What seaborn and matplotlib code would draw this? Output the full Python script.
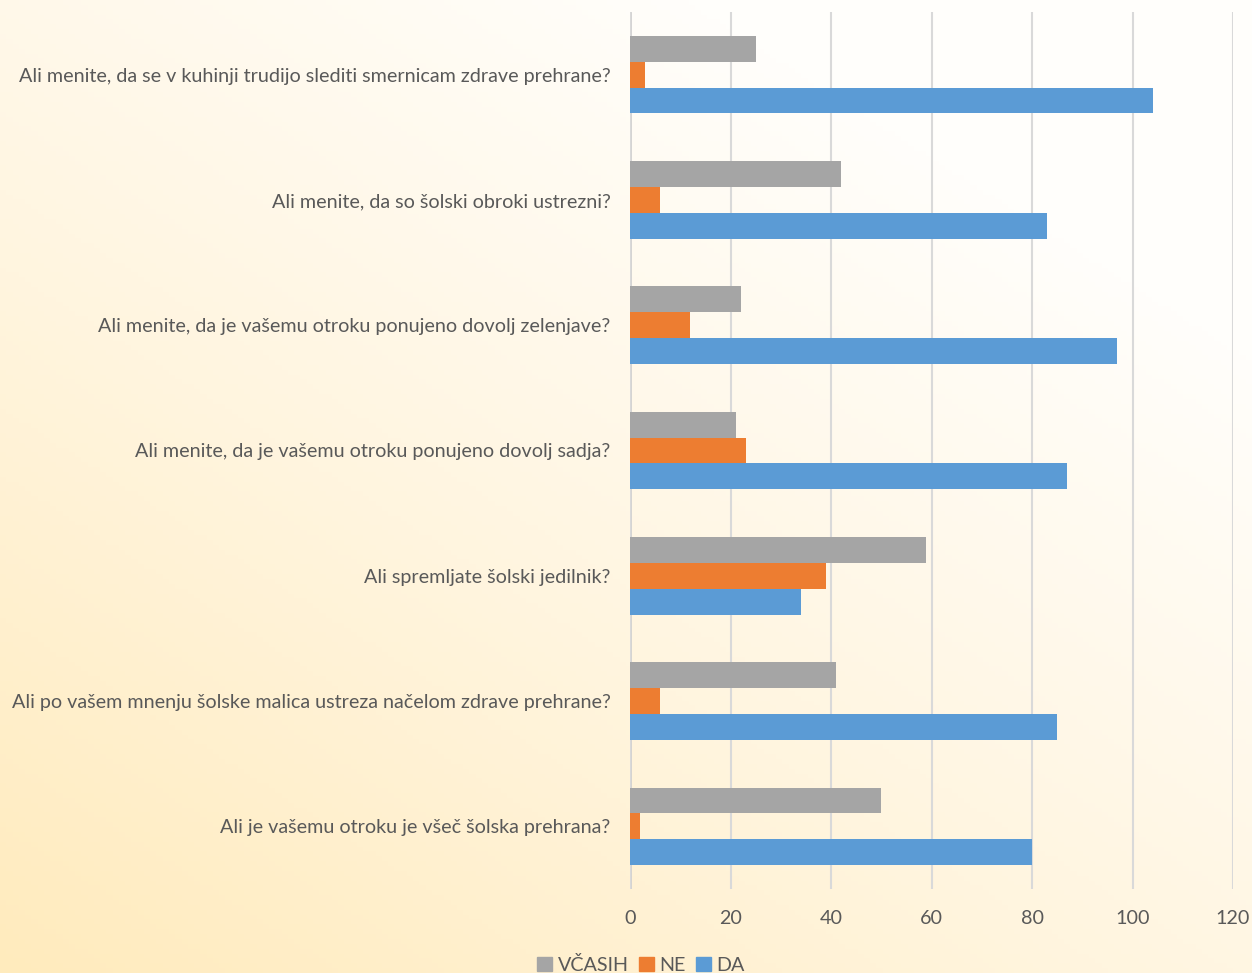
import numpy as np
import pandas as pd
import seaborn as sb
import matplotlib as mpl
import matplotlib.pyplot as plt
import matplotlib.ticker as ticker
from matplotlib.colors import LinearSegmentedColormap

questions = [
    'Ali menite, da se v kuhinji trudijo slediti smernicam zdrave prehrane?',
    'Ali menite, da so šolski obroki ustrezni?',
    'Ali menite, da je vašemu otroku ponujeno dovolj zelenjave?',
    'Ali menite, da je vašemu otroku ponujeno dovolj sadja?',
    'Ali spremljate šolski jedilnik?',
    'Ali po vašem mnenju šolske malica ustreza načelom zdrave prehrane?',
    'Ali je vašemu otroku je všeč šolska prehrana?',
]
vcasih = [25, 42, 22, 21, 59, 41, 50]
ne     = [3, 6, 12, 23, 39, 6, 2]
da     = [104, 83, 97, 87, 34, 85, 80]

series = ['VČASIH', 'NE', 'DA']
colors = ['#A5A5A5', '#ED7D31', '#5B9BD5']

sb.set_style('white')
mpl.rcParams['font.family'] = ['Lato', 'DejaVu Sans']

df = pd.DataFrame({'q': questions, 'VČASIH': vcasih, 'NE': ne, 'DA': da})
df = df.melt(id_vars='q', var_name='odgovor', value_name='n')

fig = plt.figure(figsize=(12.52, 9.73), dpi=100)

# background gradient (yellow bottom-left -> white top-right)
bg = fig.add_axes([0, 0, 1, 1], zorder=-10)
yy, xx = np.mgrid[0:1:200j, 0:1:200j]
t = np.clip((xx * 0.9 + (1 - yy) * 1.1) / 1.6, 0, 1)
cmap = LinearSegmentedColormap.from_list('bg', ['#FFEBBD', '#FFF5DF', '#FFFEFB'])
bg.imshow(t, cmap=cmap, aspect='auto', extent=[0, 1, 0, 1], origin='upper')
bg.axis('off')

ax = fig.add_axes([630/1252, 1 - 889/973, 603/1252, (889 - 12)/973])
ax.set_facecolor('none')

sb.barplot(data=df, y='q', x='n', hue='odgovor', order=questions,
           hue_order=series, palette=colors, orient='h',
           width=0.62, saturation=1, linewidth=0, ax=ax, legend=False)

ax.set_xlim(0, 120)
ax.xaxis.set_major_locator(ticker.MultipleLocator(20))
ax.grid(axis='x', color='#D9D9D9', linewidth=1.5)
ax.set_axisbelow(True)
for s in ax.spines.values():
    s.set_visible(False)
ax.axvline(0, color='#D0D0D0', linewidth=2, zorder=0)
ax.set_xlabel('')
ax.set_ylabel('')
ax.tick_params(axis='both', length=0, labelsize=14.2, labelcolor='#595959')
ax.tick_params(axis='y', pad=14)
ax.tick_params(axis='x', pad=15)

handles = [mpl.patches.Patch(color=c, label=s) for s, c in zip(series, colors)]
fig.legend(handles=handles, loc='lower center', bbox_to_anchor=(0.512, -0.019),
           ncol=3, frameon=False, fontsize=14.2, labelcolor='#595959',
           handlelength=0.75, handleheight=0.75, handletextpad=0.3,
           columnspacing=0.5)

fig.savefig('out.png', dpi=100)
